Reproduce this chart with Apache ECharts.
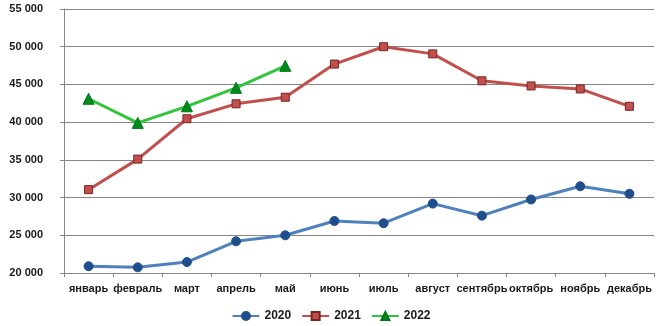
<!DOCTYPE html>
<html><head><meta charset="utf-8">
<script src="https://cdn.jsdelivr.net/npm/echarts@6/dist/echarts.min.js"></script>
<style>html,body{margin:0;padding:0;background:#fff}#c{width:662px;height:326px}</style>
</head><body><div id="c"></div>
<script>
const categories = ['январь','февраль','март','апрель','май','июнь','июль','август','сентябрь','октябрь','ноябрь','декабрь'];
const seriesNames = ['2020','2021','2022'];
const values2020 = [20900,20750,21450,24200,25000,26900,26600,29200,27600,29750,31500,30500];
const values2021 = [31050,35100,40450,42430,43300,47700,50000,49050,45480,44800,44400,42100];
const values2022 = [43100,39900,42100,44550,47460];
const yMin = 20000, yMax = 55000, yStep = 5000;

const font = {fontFamily:'Liberation Sans', fontWeight:'bold', fontSize:11, color:'#1a1a1a'};
const chart = echarts.init(document.getElementById('c'), null, {renderer:'canvas'});
chart.setOption({
  animation:false,
  grid:{left:64, right:8, top:9, bottom:53, containLabel:false},
  legend:{
    bottom:-1, left:'center', itemWidth:27, itemHeight:10, itemGap:10,
    textStyle:Object.assign({}, font, {fontSize:12}),
    data:seriesNames
  },
  xAxis:{
    type:'category', data:categories, boundaryGap:true,
    axisLine:{lineStyle:{color:'#868686'}},
    axisTick:{show:true, length:4, lineStyle:{color:'#868686'}},
    axisLabel:Object.assign({}, font, {margin:10, interval:0})
  },
  yAxis:{
    type:'value', min:yMin, max:yMax, interval:yStep,
    axisLine:{show:true, lineStyle:{color:'#868686'}},
    axisTick:{show:true, length:4, lineStyle:{color:'#868686'}},
    splitLine:{lineStyle:{color:'#868686'}},
    axisLabel:Object.assign({}, font, {margin:21, formatter:v=>String(v).replace(/\B(?=(\d{3})+(?!\d))/g,' ')})
  },
  series:[
    {name:seriesNames[0], type:'line', data:values2020, symbol:'circle', symbolSize:9,
     lineStyle:{color:'#4f81bd', width:3}, itemStyle:{color:'#1f4e8c', borderColor:'#1f4e8c', borderWidth:1}},
    {name:seriesNames[1], type:'line', data:values2021, symbol:'rect', symbolSize:8,
     lineStyle:{color:'#c0504d', width:3}, itemStyle:{color:'#c0504d', borderColor:'#7a2321', borderWidth:1}},
    {name:seriesNames[2], type:'line', data:values2022, symbol:'triangle', symbolSize:11,
     lineStyle:{color:'#33c43d', width:3}, itemStyle:{color:'#008a1a', borderColor:'#00751a', borderWidth:1}}
  ]
});
</script></body></html>
